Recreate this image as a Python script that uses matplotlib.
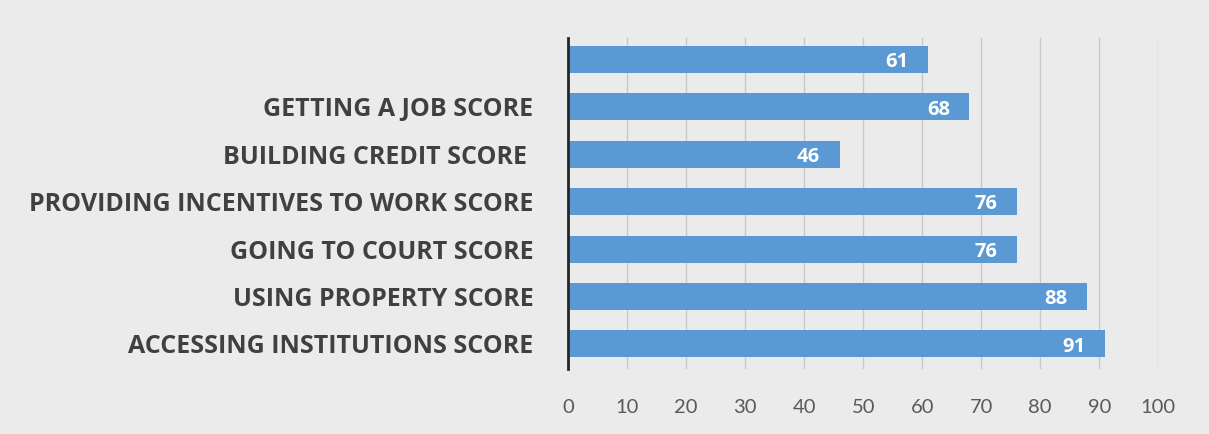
import matplotlib.pyplot as plt

categories = ["ACCESSING INSTITUTIONS SCORE", "USING PROPERTY SCORE", "GOING TO COURT SCORE",
              "PROVIDING INCENTIVES TO WORK SCORE", "BUILDING CREDIT SCORE ", "GETTING A JOB SCORE", ""]
scores = [91, 88, 76, 76, 46, 68, 61]
xticks = [0, 10, 20, 30, 40, 50, 60, 70, 80, 90, 100]

bg = "#ebebeb"
fig = plt.figure(figsize=(12.09, 4.34), dpi=100, facecolor=bg)
ax = fig.add_axes([0.47, 0.15, 0.488, 0.762], facecolor=bg)

ypos = range(len(scores))
bars = ax.barh(ypos, scores, height=0.57, color="#5a99d3", zorder=3)
for y, v in zip(ypos, scores):
    ax.annotate(str(v), (v, y), xytext=(-14, -2), textcoords="offset points",
                ha="right", va="center", color="white", fontweight="bold",
                fontsize=14.5, family="Open Sans", zorder=4)

ax.set_xlim(0, 100)
ax.set_ylim(-0.53, 6.45)
ax.set_xticks(xticks)
ax.set_yticks(list(ypos))
ax.set_yticklabels(categories, fontsize=18, fontweight="bold", color="#404040", family="Open Sans")
ax.tick_params(axis="y", length=0, pad=25)
ax.tick_params(axis="x", length=0, pad=22, labelsize=14.5, labelcolor="#595959")
for lab in ax.get_xticklabels():
    lab.set_family("Lato")
ax.grid(axis="x", color="#c8c8c8", linewidth=1, zorder=0)
for s in ["top", "right", "bottom"]:
    ax.spines[s].set_visible(False)
ax.spines["left"].set_color("#262626")
ax.spines["left"].set_linewidth(2)
ax.spines["left"].set_zorder(5)

plt.savefig("out.png", dpi=100, facecolor=bg)
